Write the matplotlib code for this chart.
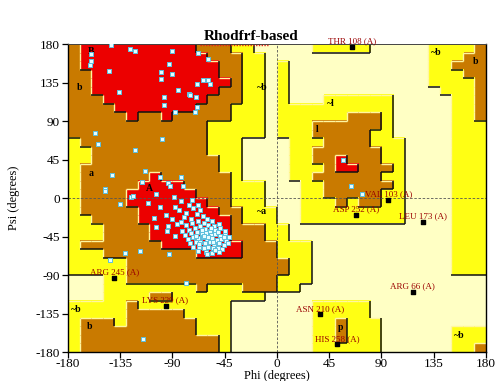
import sys
import matplotlib
matplotlib.use("Agg")
import matplotlib.pyplot as plt
import numpy as np
from matplotlib.colors import ListedColormap
from matplotlib.collections import LineCollection
from matplotlib.lines import Line2D

plt.rcParams['font.family'] = ['Liberation Serif', 'DejaVu Serif']
plt.rcParams['axes.unicode_minus'] = False

# Region map: 10-degree cells, rows from psi=180 (top) to psi=-180, columns phi=-180..180
# '.' disallowed, 'y' generously allowed, 'b' additionally allowed, 'r' most favoured
REGION_ROWS = [
    "brrrrrrrrrrbbbyy.....yyyyy.....yyyyb",
    "brrrrrrrrrrrbbbyy..............yyybb",
    "brrrrrrrrrrrrbbyy.y............yybbb",
    "bbrrrrrrrrrrrbbyy.y............yyybb",
    "bbrrrrrrrrrrrrbyy.y............yyyyb",
    "bbrrrrrrrrrrrbbyy.y.............yyyb",
    "bbbrrrrrrrrrbbbyy.y...yyyyyy.....yyb",
    "bbbbrrrrrrrbbbyyy.yyyyyyyyyy.....yyb",
    "bbbbbrbbrbbbbbyyy.yyyyyybbby.....yyb",
    "bbbbbbbbbbbbyyyyy.yyybbbbbby.....yyy",
    "bbbbbbbbbbbbyyyyy.yyybbbbbyy.....yyy",
    "ybbbbbbbbbbbyyy....yyybbbbyyy....yyy",
    "yybbbbbbbbbbyyy....yybbbbbbyy....yyy",
    "yybbbbbbbbbbbyy....yybbrbbbyy....yyy",
    "ybbbbbbbbbbbbyy....yyybrrbbby....yyy",
    "ybbbbbbrbbbbbby....yybbbbbbyy....yyy",
    "ybbbbbrrrrbbbbyyy...yybbbbbby....yyy",
    "ybbbbrrrrrrbbbyyy...yybbbbbyy....yyy",
    "ybbbbrrrrrrrbbyyy...yyybybbyy....yyy",
    "ybbbbbrrrrrrrbbyyy..yyyyyyyyy....yyy",
    "yybbbbrrrrrrrrbyyy..yyyyyyyyy....yyy",
    "yyybbbbrrrrrrrbbbyy..............yyy",
    "yyybbbbrrrrrrrbbbyy..............yyy",
    "ybbbbbbbrrrrrrrbbbyyy............yyy",
    "yyybbbbbbbbrrrrbbbyyy............yyy",
    "yyyyybbbbbbbbbbbbbbyy............yyy",
    "yyyyybbbbbbbbbbbbbbyy............yyy",
    "...yybbbbbbbbbbbbbyyy...............",
    "...yyyyyyyybyyybbbyy................",
    "...yyyybbyyyyyyyy...................",
    "yyyyybyyyyyyyy.......yyyyy..........",
    "yyyyybbbbbyyyy.......yyyyy..........",
    "ybbbybbbbbbyyy.......yybyyy.........",
    "ybbbbbbbbbbyyy.......yybyyy......yyy",
    "ybbbbbbbbbbbby.......yybyyy......yyy",
    "ybbbbbbbbbbbby.......yyyyyy......yyb",
]
LEVEL = {'.': 0, 'y': 1, 'b': 2, 'r': 3}
REGION_COLORS = ['#FFFFC4', '#FFFF14', '#C97A00', '#EC0000']

# residues in favoured / allowed regions (phi, psi)
core_phi = [-143, -127, -122, -90, -68, -59, -160, -160, -161, -93, -145, -100, -90, -100, -64, -59, -58, -69,
            -136, -85, -76, -75, -70, -97, -97, -69, -71, -88,
            -157, -154, -99, -122, -142, -114, -116, -101, -83, -94, -92, -81, -148,
            -148, -135, -126, -124, -111, -104, -101, -89, -96, -106, -83, -73, -68, -66, -78, -83, -94, -104, -95,
            -131, -144, -118, -93, -78, -115,
            57, 64, 73,
            -88, -84, -76, -72, -80, -74, -69, -64, -60, -56, -90, -86, -78, -73, -68, -63, -59, -54, -50,
            -82, -76, -71, -66, -62, -58, -53, -49, -45, -88, -79, -74, -69, -65, -61, -57, -53, -49, -45, -41,
            -77, -72, -68, -64, -60, -56, -52, -48, -44, -75, -70, -66, -62, -58, -54, -50, -46, -42,
            -72, -67, -63, -59, -55, -51, -47, -68, -61, -56, -50, -65, -55, -63, -51, -70, -59, -67, -57, -46, -53, -60]
core_psi = [179, 174, 172, 172, 170, 162, 168, 160, 155, 157, 149, 147, 145, 139, 138, 138, 133, 133,
            124, 126, 122, 120, 118, 118, 109, 106, 100, 101,
            76, 63, 69, 56, 27, 31, 19, 24, 25, 17, 14, 14, 11,
            8, -7, 1, 2, -6, 5, -10, 1, -20, -23, -4, -2, -8, -14, -18, -28, -33, -34, -39,
            -64, -73, -62, -66, -99, -165,
            45, 14, 5,
            -10, -14, -8, -12, -22, -24, -19, -21, -24, -27, -24, -30, -32, -29, -27, -29, -31, -33, -30,
            -38, -37, -35, -33, -36, -38, -37, -35, -38, -44, -43, -41, -40, -42, -41, -43, -42, -44, -43, -46,
            -48, -46, -47, -46, -48, -47, -49, -48, -50, -53, -52, -51, -53, -52, -54, -53, -55, -53,
            -57, -57, -58, -57, -59, -58, -60, -62, -63, -64, -63, -37, -51, -44, -40, -44, -45, -54, -35, -46, -61, -66]

# residues in generously allowed / disallowed regions
out_names = ["THR 108 (A)", "VAL 103 (A)", "ASP 252 (A)", "LEU 173 (A)", "ARG 66 (A)",
             "ASN 210 (A)", "HIS 258 (A)", "ARG 245 (A)", "LYS 229 (A)"]
out_phi = [65, 96, 68, 126, 117, 37, 52, -140, -96]
out_psi = [177, -2, -20, -28, -110, -136, -171, -93, -126]

# region labels
reg_text = ["B", "b", "a", "A", "l", "~l", "~b", "~b", "b", "~b", "b", "~b", "~a", "p"]
reg_phi = [-160, -170, -160, -110, 35, 46, -13, 137, 171, -173, -161, 157, -13, 55]
reg_psi = [171, 129, 29, 11, 80, 110, 129, 170, 159, -130, -150, -161, -16, -151]

ticks = [-180, -135, -90, -45, 0, 45, 90, 135, 180]

fig = plt.figure(figsize=(4.98, 3.81), dpi=100)
ax = fig.add_axes([0.1365, 0.0761, 0.8394, 0.8084])

rows = []
for row in REGION_ROWS:
    if len(row) != 36:
        print("bad row length", len(row), row, file=sys.stderr)
    row = (row + "." * 36)[:36]
    rows.append([LEVEL[ch] for ch in row])
grid = np.array(rows)
nr, nc = grid.shape

ax.imshow(grid, cmap=ListedColormap(REGION_COLORS), vmin=-0.5, vmax=3.5,
          extent=[-180, 180, -180, 180], origin='upper', interpolation='nearest',
          aspect='auto', zorder=0)

# shaded borders: dark on right / bottom edge of higher region, light on left / top
dark, light = [], []
cw = 360.0 / nc
rh = 360.0 / nr
for r in range(nr):
    for c in range(nc):
        x0 = -180 + c * cw
        y1 = 180 - r * rh
        y0 = y1 - rh
        if c < nc - 1 and grid[r, c] != grid[r, c + 1]:
            seg = [(x0 + cw, y0), (x0 + cw, y1)]
            (dark if grid[r, c] > grid[r, c + 1] else light).append(seg)
        if r < nr - 1 and grid[r, c] != grid[r + 1, c]:
            seg = [(x0, y0), (x0 + cw, y0)]
            (dark if grid[r, c] > grid[r + 1, c] else light).append(seg)
ax.add_collection(LineCollection(light, colors='#FFF6A0', linewidths=1.0, zorder=1))
ax.add_collection(LineCollection(dark, colors='#111111', linewidths=1.1, zorder=1))

ax.axhline(0, color='#555555', lw=0.6, ls=(0, (3, 2)), zorder=2)
ax.axvline(0, color='#555555', lw=0.6, ls=(0, (3, 2)), zorder=2)

for t, x, y in zip(reg_text, reg_phi, reg_psi):
    ax.text(x, y, t, fontsize=7, fontweight='bold', color='black',
            ha='center', va='center', zorder=3)

ax.scatter(core_phi, core_psi, marker='s', s=9, facecolor='#E8FCFF',
           edgecolor='#5CC0DE', linewidths=0.7, zorder=5)
ax.scatter(out_phi, out_psi, marker='s', s=10, c='black', zorder=6)
for n, x, y in zip(out_names, out_phi, out_psi):
    ax.text(x, y + 6.5, n, fontsize=6.5, color='#9A0000', ha='center',
            va='center', zorder=7, clip_on=False)

ax.set_xlim(-180, 180)
ax.set_ylim(-180, 180)
ax.set_xticks(ticks)
ax.set_yticks(ticks)
ax.set_xticklabels([str(t) for t in ticks])
ax.set_yticklabels([str(t) for t in ticks])
ax.tick_params(direction='out', length=4, width=0.9, labelsize=9.5)
ax.tick_params(axis='x', pad=0.5)
ax.tick_params(axis='y', pad=2)
for s in ['left', 'bottom', 'right']:
    ax.spines[s].set_color('black')
    ax.spines[s].set_linewidth(1.0)
ax.spines['top'].set_color('#444444')
ax.spines['top'].set_linewidth(0.7)
ax.set_xlabel("Phi (degrees)", fontsize=9, va='top')
ax.set_ylabel("Psi (degrees)", fontsize=9)
ax.xaxis.set_label_coords(0.5, -0.057)
ax.yaxis.set_label_coords(-0.115, 0.5)

fig.text(0.505, 0.905, "Rhodfrf-based", fontsize=11, fontweight='bold',
         ha='center', va='center')
fig.add_artist(Line2D([0.402, 0.538], [0.882, 0.882], transform=fig.transFigure,
                      color='#E02020', lw=1.0, ls=(0, (1, 1))))

fig.savefig("out.png", dpi=100)
